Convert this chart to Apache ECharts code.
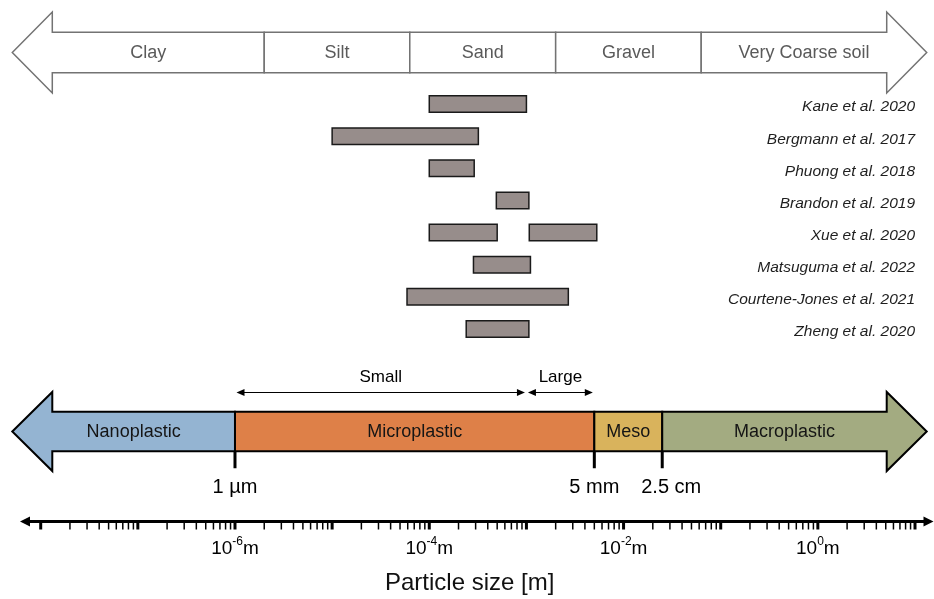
<!DOCTYPE html>
<html>
<head>
<meta charset="utf-8">
<script src="https://cdn.jsdelivr.net/npm/echarts@6/dist/echarts.min.js"></script>
<style>
  html, body { margin: 0; padding: 0; background: #fff; }
  #chart { width: 934px; height: 599px; }
</style>
</head>
<body>
<div id="chart"></div>
<script>
// ---------- data ----------
// Soil texture classes and grain-size limits [m]; first/last values are the arrow tips
const soilClasses = ['Clay', 'Silt', 'Sand', 'Gravel', 'Very Coarse soil'];
const soilBounds = [5.1e-9, 2e-6, 6.3e-5, 2e-3, 6.3e-2, 13.2];

// Particle size ranges reported per study [m]
const studies = [
  'Kane et al. 2020',
  'Bergmann et al. 2017',
  'Phuong et al. 2018',
  'Brandon et al. 2019',
  'Xue et al. 2020',
  'Matsuguma et al. 2022',
  'Courtene-Jones et al. 2021',
  'Zheng et al. 2020'
];
const rangeStudy = [0, 1, 2, 3, 4, 4, 5, 6, 7];
const rangeMin = [1e-4, 1e-5, 1e-4, 4.9e-4, 1e-4, 1.07e-3, 2.85e-4, 5.9e-5, 2.4e-4];
const rangeMax = [1e-3, 3.2e-4, 2.9e-4, 1.06e-3, 5e-4, 5.3e-3, 1.1e-3, 2.7e-3, 1.06e-3];

// Plastic debris size classes [m]; first/last values are the arrow tips
const plasticClasses = ['Nanoplastic', 'Microplastic', 'Meso', 'Macroplastic'];
const plasticBounds = [5.1e-9, 1e-6, 5e-3, 2.5e-2, 13.2];
const limitValues = [1e-6, 5e-3, 2.5e-2];
const limitLabels = ['1 µm', '5 mm', '2.5 cm'];
const microClasses = ['Small', 'Large'];
const microBounds = [1e-6, 1e-3, 5e-3];

// Logarithmic particle-size axis
const axisMin = 1e-8;
const axisMax = 10;
const decadeExps = [-8, -7, -6, -5, -4, -3, -2, -1, 0, 1];
const minorMultipliers = [2, 3, 4, 5, 6, 7, 8, 9];
const labelExps = [-6, -4, -2, 0];
const axisTitle = 'Particle size [m]';

// ---------- styles ----------
const FONT = '"Liberation Sans", Arial, Helvetica, sans-serif';
const plasticColors = ['#94b4d2', '#de8048', '#d9b35c', '#a3ab81'];
const limitLabelNudge = [0, 0, 9];
const HEAD = 40;

const tickData = [];
decadeExps.forEach(function (d) {
  const base = Math.pow(10, d);
  tickData.push([base, 1]);
  if (d < decadeExps[decadeExps.length - 1]) {
    minorMultipliers.forEach(function (k) { tickData.push([k * base, 0]); });
  }
});

// ---------- helpers ----------
function arrowSegmentRenderer(names, fills, stroke, lineWidth, textColor) {
  return function (params, api) {
    const i = api.value(2);
    const n = names.length;
    const a = api.coord([api.value(0), 0.5]);
    const b = api.coord([api.value(1), 0.5]);
    const xs = a[0], xe = b[0], yMid = a[1];
    const yTop = api.coord([api.value(0), 1])[1];
    const yBot = api.coord([api.value(0), 0])[1];
    const bT = api.coord([api.value(0), 0.75])[1];
    const bB = api.coord([api.value(0), 0.25])[1];
    let pts;
    if (i === 0) {
      pts = [[xs, yMid], [xs + HEAD, yTop], [xs + HEAD, bT], [xe, bT], [xe, bB], [xs + HEAD, bB], [xs + HEAD, yBot]];
    } else if (i === n - 1) {
      pts = [[xs, bT], [xe - HEAD, bT], [xe - HEAD, yTop], [xe, yMid], [xe - HEAD, yBot], [xe - HEAD, bB], [xs, bB]];
    } else {
      pts = [[xs, bT], [xe, bT], [xe, bB], [xs, bB]];
    }
    const left = i === 0 ? xs + HEAD / 2 : xs;
    const right = i === n - 1 ? xe - HEAD / 2 : xe;
    return {
      type: 'group',
      children: [
        {
          type: 'polygon',
          shape: { points: pts },
          style: { fill: fills[i], stroke: stroke, lineWidth: lineWidth, lineJoin: 'miter' }
        },
        {
          type: 'text',
          x: (left + right) / 2,
          y: yMid + 1,
          style: {
            text: names[i], fill: textColor, fontSize: 18, fontFamily: FONT,
            align: 'center', verticalAlign: 'middle',
            textAlign: 'center', textVerticalAlign: 'middle'
          }
        }
      ]
    };
  };
}

const chart = echarts.init(document.getElementById('chart'), null, { renderer: 'canvas' });

const gridBase = { left: 40.7, right: 19, outerBoundsMode: 'none', containLabel: false };

const option = {
  animation: false,
  backgroundColor: '#fff',
  title: {
    text: axisTitle,
    left: 385,
    top: 571,
    padding: 0,
    textStyle: { fontSize: 24, fontWeight: 'normal', color: '#111', fontFamily: FONT }
  },
  grid: [
    Object.assign({ top: 12, height: 81 }, gridBase),
    Object.assign({ top: 88, height: 257 }, gridBase),
    Object.assign({ top: 392, height: 79 }, gridBase),
    Object.assign({ top: 521, height: 8 }, gridBase)
  ],
  xAxis: [0, 1, 2, 3].map(function (g) {
    return { type: 'log', logBase: 10, gridIndex: g, min: axisMin, max: axisMax, show: false };
  }),
  yAxis: [
    { type: 'value', gridIndex: 0, min: 0, max: 1, show: false },
    { type: 'category', gridIndex: 1, data: studies, inverse: true, show: false },
    { type: 'value', gridIndex: 2, min: 0, max: 1, show: false },
    { type: 'value', gridIndex: 3, min: 0, max: 1, show: false }
  ],
  series: [
    // soil texture arrow
    {
      type: 'custom', xAxisIndex: 0, yAxisIndex: 0, silent: true,
      data: soilClasses.map(function (n, i) { return [soilBounds[i], soilBounds[i + 1], i]; }),
      renderItem: arrowSegmentRenderer(soilClasses, soilClasses.map(function () { return '#fff'; }), '#737373', 1.5, '#5a5a5a')
    },
    // study ranges
    {
      type: 'custom', xAxisIndex: 1, yAxisIndex: 1, silent: true,
      encode: { x: [0, 1], y: 2 },
      data: rangeStudy.map(function (s, i) { return [rangeMin[i], rangeMax[i], s]; }),
      renderItem: function (params, api) {
        const s = api.coord([api.value(0), api.value(2)]);
        const e = api.coord([api.value(1), api.value(2)]);
        const h = api.size([0, 1])[1] * 0.51;
        return {
          type: 'rect',
          shape: { x: s[0], y: s[1] - h / 2, width: e[0] - s[0], height: h },
          style: { fill: '#978d8b', stroke: '#1a1a1a', lineWidth: 1.5 }
        };
      }
    },
    // study names, right aligned at the plot edge
    {
      type: 'custom', xAxisIndex: 1, yAxisIndex: 1, silent: true,
      encode: { x: 0, y: 1 },
      data: studies.map(function (s, i) { return [axisMax, i]; }),
      renderItem: function (params, api) {
        const p = api.coord([api.value(0), api.value(1)]);
        return {
          type: 'text', x: p[0], y: p[1] + 3,
          style: {
            text: studies[api.value(1)], fill: '#1e1e1e', fontSize: 15.5, fontStyle: 'italic', fontFamily: FONT,
            align: 'right', verticalAlign: 'middle', textAlign: 'right', textVerticalAlign: 'middle'
          }
        };
      }
    },
    // plastic size class arrow
    {
      type: 'custom', xAxisIndex: 2, yAxisIndex: 2, silent: true,
      data: plasticClasses.map(function (n, i) { return [plasticBounds[i], plasticBounds[i + 1], i]; }),
      renderItem: arrowSegmentRenderer(plasticClasses, plasticColors, '#000', 2, '#151515')
    },
    // class limits with labels
    {
      type: 'custom', xAxisIndex: 2, yAxisIndex: 2, silent: true,
      data: limitValues.map(function (v, i) { return [v, 0.25, i]; }),
      renderItem: function (params, api) {
        const i = api.value(2);
        const p = api.coord([api.value(0), 0.25]);
        return {
          type: 'group',
          children: [
            { type: 'line', shape: { x1: p[0], y1: p[1], x2: p[0], y2: p[1] + 17 }, style: { stroke: '#000', lineWidth: 3 } },
            {
              type: 'text', x: p[0] + limitLabelNudge[i], y: p[1] + 36,
              style: {
                text: limitLabels[i], fill: '#000', fontSize: 20, fontFamily: FONT,
                align: 'center', verticalAlign: 'middle', textAlign: 'center', textVerticalAlign: 'middle'
              }
            }
          ]
        };
      }
    },
    // small / large microplastic ranges
    {
      type: 'custom', xAxisIndex: 2, yAxisIndex: 2, silent: true,
      data: microClasses.map(function (n, i) { return [microBounds[i], microBounds[i + 1], i]; }),
      renderItem: function (params, api) {
        const i = api.value(2);
        const a = api.coord([api.value(0), 1]);
        const b = api.coord([api.value(1), 1]);
        const x0 = a[0] + 1.5, x1 = b[0] - 1.5, y = a[1] + 0.5;
        const L = 8, W = 3.5;
        return {
          type: 'group',
          children: [
            { type: 'line', shape: { x1: x0 + 2, y1: y, x2: x1 - 2, y2: y }, style: { stroke: '#000', lineWidth: 1 } },
            { type: 'polygon', shape: { points: [[x0, y], [x0 + L, y - W], [x0 + L, y + W]] }, style: { fill: '#000' } },
            { type: 'polygon', shape: { points: [[x1, y], [x1 - L, y - W], [x1 - L, y + W]] }, style: { fill: '#000' } },
            {
              type: 'text', x: (x0 + x1) / 2, y: y - 15,
              style: {
                text: microClasses[i], fill: '#000', fontSize: 17, fontFamily: FONT,
                align: 'center', verticalAlign: 'middle', textAlign: 'center', textVerticalAlign: 'middle'
              }
            }
          ]
        };
      }
    },
    // axis line with arrow heads
    {
      type: 'custom', xAxisIndex: 3, yAxisIndex: 3, silent: true,
      data: [[axisMin, axisMax]],
      renderItem: function (params, api) {
        const cs = params.coordSys;
        const y = cs.y + 0.5;
        const xl = cs.x - 20.7, xr = cs.x + cs.width + 18.5;
        return {
          type: 'group',
          children: [
            { type: 'line', shape: { x1: xl + 5, y1: y, x2: xr - 5, y2: y }, style: { stroke: '#000', lineWidth: 3 } },
            { type: 'polygon', shape: { points: [[xl, y], [xl + 10, y - 5], [xl + 10, y + 5]] }, style: { fill: '#000' } },
            { type: 'polygon', shape: { points: [[xr, y], [xr - 10, y - 5], [xr - 10, y + 5]] }, style: { fill: '#000' } }
          ]
        };
      }
    },
    // decade and minor ticks
    {
      type: 'custom', xAxisIndex: 3, yAxisIndex: 3, silent: true,
      data: tickData,
      renderItem: function (params, api) {
        const major = api.value(1) === 1;
        const x = api.coord([api.value(0), 1])[0];
        const top = params.coordSys.y + 0.5;
        return {
          type: 'line',
          shape: { x1: x, y1: top, x2: x, y2: top + 8 },
          style: { stroke: '#000', lineWidth: major ? 3 : 1.5 }
        };
      }
    },
    // decade labels
    {
      type: 'custom', xAxisIndex: 3, yAxisIndex: 3, silent: true,
      data: labelExps.map(function (e) { return [Math.pow(10, e), e]; }),
      renderItem: function (params, api) {
        const x = api.coord([api.value(0), 1])[0];
        const y = params.coordSys.y + 26;
        return {
          type: 'text', x: x, y: y,
          style: {
            text: '{b|10}{s|' + api.value(1) + '}{b|m}',
            align: 'center', verticalAlign: 'middle', textAlign: 'center', textVerticalAlign: 'middle',
            fontFamily: FONT, fill: '#000',
            rich: {
              b: { fontSize: 19, fontFamily: FONT, fill: '#000', color: '#000', lineHeight: 22, verticalAlign: 'bottom' },
              s: { fontSize: 12, fontFamily: FONT, fill: '#000', color: '#000', lineHeight: 22, verticalAlign: 'top' }
            }
          }
        };
      }
    }
  ]
};

chart.setOption(option);
</script>
</body>
</html>
